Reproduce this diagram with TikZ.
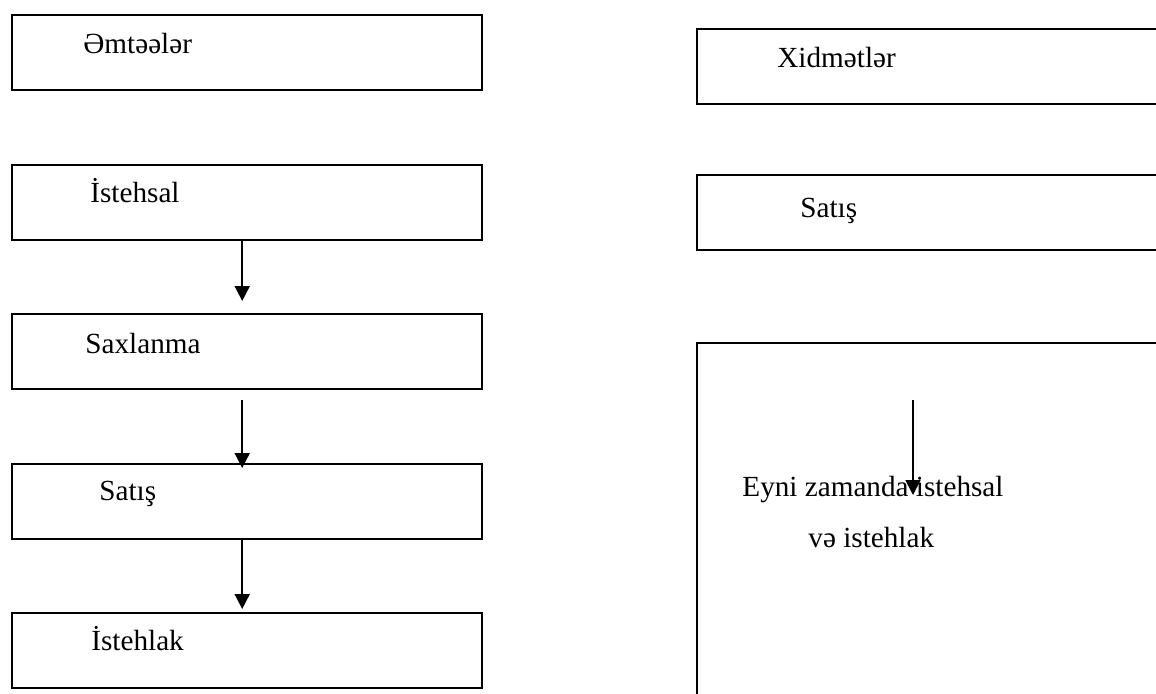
\documentclass[tikz,border=0pt]{standalone}
\usepackage{fontspec}
\setmainfont{Liberation Serif}
\usetikzlibrary{arrows.meta}
\begin{document}
\begin{tikzpicture}[x=0.5pt,y=-0.5pt,
  box/.style={draw,line width=1.2pt,rectangle,inner sep=0pt,anchor=north west,
    minimum width=235pt,minimum height=37.5pt},
  lbl/.style={anchor=base west,inner sep=0pt,font=\fontsize{14.6pt}{17pt}\selectfont},
  flow/.style={line width=0.85pt,-{Triangle[width=7.5pt,length=7.5pt]}}]
\useasboundingbox (0,0) rectangle (1156,693);
\clip (0,0) rectangle (1156,693);
% goods column
\node[box] (goods) at (11,14) {};
\node[box] (prod) at (11,164) {};
\node[box] (store) at (11,313) {};
\node[box] (sale) at (11,463) {};
\node[box] (cons) at (11,612) {};
\node[lbl] (tgoods) at (83,53) {Əmtəələr};
\node[lbl] (tprod) at (90,202) {İstehsal};
\node[lbl] (tstore) at (85,353) {Saxlanma};
\node[lbl] (tsale) at (99,500) {Satış};
\node[lbl] (tcons) at (91,650) {İstehlak};
% services column (runs past the right edge)
\node[box,minimum width=240pt] (serv) at (696,28) {};
\node[box,minimum width=240pt] (rsale) at (696,174) {};
\node[box,minimum width=240pt,minimum height=190pt] (both) at (696,342) {};
\node[lbl] (tserv) at (777,67) {Xidmətlər};
\node[lbl] (trsale) at (800,217) {Satış};
\node[lbl] (tboth1) at (742,496) {Eyni zamanda istehsal};
\node[lbl] (tboth2) at (808,547) {və istehlak};
% connectors
\draw[flow] ([xshift=-2.5pt]prod.south) -- ([xshift=-2.5pt,yshift=6pt]store.north);
\draw[flow] ([xshift=-2.5pt,yshift=-5pt]store.south) -- ([xshift=-2.5pt,yshift=-2.5pt]sale.north);
\draw[flow] ([xshift=-2.5pt]sale.south) -- ([xshift=-2.5pt,yshift=1.5pt]cons.north);
\coordinate (bs) at (913,400);
\coordinate (be) at (913,495);
\draw[flow] (bs) -- (be);
\end{tikzpicture}
\end{document}
